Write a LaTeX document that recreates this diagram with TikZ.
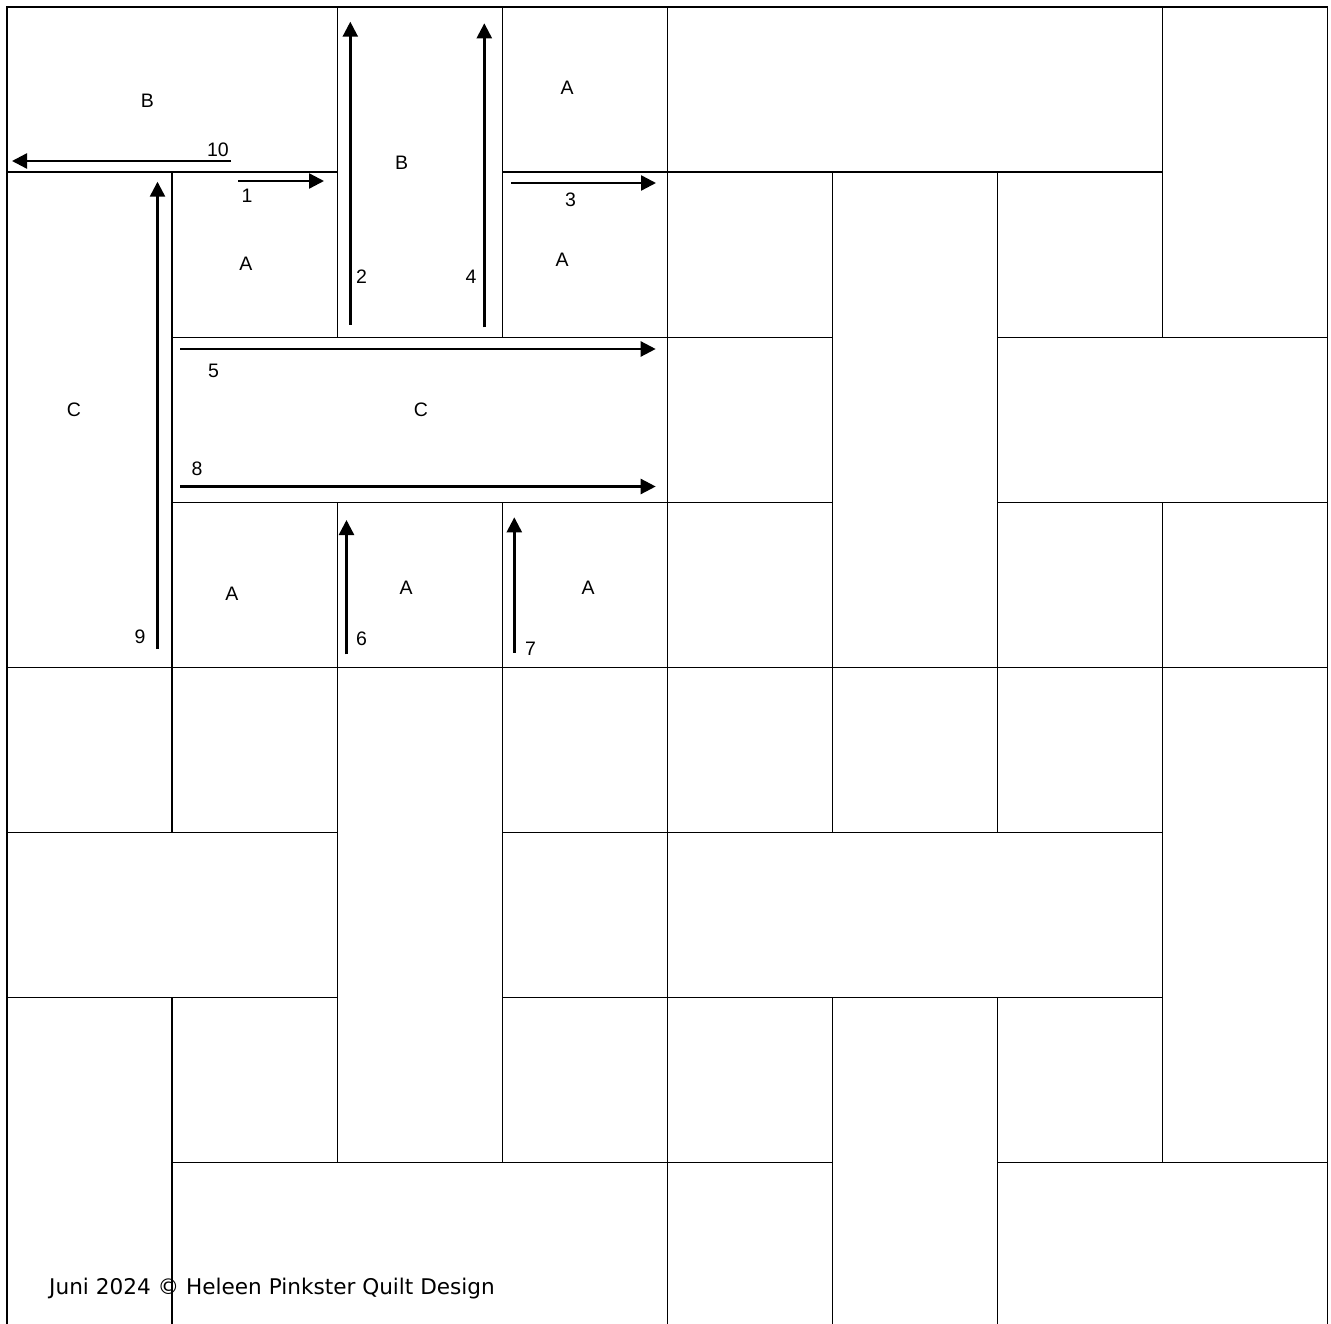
\documentclass[tikz,border=0pt]{standalone}
\usepackage{fontspec}
\setmainfont{Liberation Sans}
\newfontfamily\footfont{DejaVu Sans}
\usetikzlibrary{arrows.meta}

\begin{document}
\begin{tikzpicture}[
  x=1pt, y=-1pt,
  font=\fontsize{19.5}{23}\selectfont,
  piece/.style={draw, line width=1.3pt},
  arr/.style={-{Triangle[length=15pt, width=15pt]}, line width=2.4pt},
  lbl/.style={inner sep=0pt},
  foot/.style={inner sep=0pt, anchor=base west, font=\footfont\fontsize{21.6}{26}\selectfont}
]
\useasboundingbox (0,0) rectangle (1331,1324);
\clip (0,0) rectangle (1331,1324);
\fill[white] (0,0) rectangle (1331,1324);

\begin{scope}[shift={(7,7)}, x=165.1pt, y=-165.1pt]
\draw[piece] (0,0) rectangle (2,1) (2,0) rectangle (3,2) (3,0) rectangle (4,1) (4,0) rectangle (7,1) (7,0) rectangle (8,2);
\draw[piece] (0,1) rectangle (1,4) (1,1) rectangle (2,2) (3,1) rectangle (4,2) (4,1) rectangle (5,2) (5,1) rectangle (6,4) (6,1) rectangle (7,2);
\draw[piece] (1,2) rectangle (4,3) (4,2) rectangle (5,3) (6,2) rectangle (8,3);
\draw[piece] (1,3) rectangle (2,4) (2,3) rectangle (3,4) (3,3) rectangle (4,4) (4,3) rectangle (5,4) (6,3) rectangle (7,4) (7,3) rectangle (8,4);
\draw[piece] (0,4) rectangle (1,5) (1,4) rectangle (2,5) (2,4) rectangle (3,7) (3,4) rectangle (4,5) (4,4) rectangle (5,5) (5,4) rectangle (6,5) (6,4) rectangle (7,5) (7,4) rectangle (8,7);
\draw[piece] (0,5) rectangle (2,6) (3,5) rectangle (4,6) (4,5) rectangle (7,6);
\draw[piece] (0,6) rectangle (1,8) (1,6) rectangle (2,7) (3,6) rectangle (4,7) (4,6) rectangle (5,7) (5,6) rectangle (6,8) (6,6) rectangle (7,7);
\draw[piece] (1,7) rectangle (4,8) (4,7) rectangle (5,8) (6,7) rectangle (8,8);
\end{scope}

\node[lbl] (lblB1) at (147.5,101) {B};
\node[lbl] (lblB2) at (401.5,163) {B};
\node[lbl] (lblA1) at (567,88) {A};
\node[lbl] (lblA2) at (246,264) {A};
\node[lbl] (lblA3) at (562,260) {A};
\node[lbl] (lblC1) at (74,409.5) {C};
\node[lbl] (lblC2) at (421,409.5) {C};
\node[lbl] (lblA4) at (232,593.5) {A};
\node[lbl] (lblA5) at (406,588) {A};
\node[lbl] (lblA6) at (588,588) {A};

\node[lbl] (num1) at (247,196) {1};
\node[lbl] (num2) at (361.5,277) {2};
\node[lbl] (num3) at (570.5,200) {3};
\node[lbl] (num4) at (471,277) {4};
\node[lbl] (num5) at (213.5,371) {5};
\node[lbl] (num6) at (361.5,639) {6};
\node[lbl] (num7) at (530.5,648.5) {7};
\node[lbl] (num8) at (197,469) {8};
\node[lbl] (num9) at (140,637) {9};
\node[lbl] (num10) at (218,150) {10};

\coordinate (s1) at (238,181);     \coordinate (e1) at (324,181);
\coordinate (s2) at (350.3,325);   \coordinate (e2) at (350.3,21.7);
\coordinate (s3) at (511,183);     \coordinate (e3) at (656,183);
\coordinate (s4) at (484.3,327.3); \coordinate (e4) at (484.3,23.3);
\coordinate (s5) at (180,349);     \coordinate (e5) at (655.7,349);
\coordinate (s6) at (346.5,654.3); \coordinate (e6) at (346.5,520);
\coordinate (s7) at (514.3,652.7); \coordinate (e7) at (514.3,517.3);
\coordinate (s8) at (180,486.5);   \coordinate (e8) at (655.7,486.5);
\coordinate (s9) at (157.5,649);   \coordinate (e9) at (157.5,181.7);
\coordinate (s10) at (231,161);    \coordinate (e10) at (12,161);

\draw[arr] (s1) -- (e1);
\draw[arr] (s2) -- (e2);
\draw[arr] (s3) -- (e3);
\draw[arr] (s4) -- (e4);
\draw[arr] (s5) -- (e5);
\draw[arr] (s6) -- (e6);
\draw[arr] (s7) -- (e7);
\draw[arr] (s8) -- (e8);
\draw[arr] (s9) -- (e9);
\draw[arr] (s10) -- (e10);

\node[foot] (credit) at (49,1294) {Juni 2024 © Heleen Pinkster Quilt Design};
\end{tikzpicture}
\end{document}
